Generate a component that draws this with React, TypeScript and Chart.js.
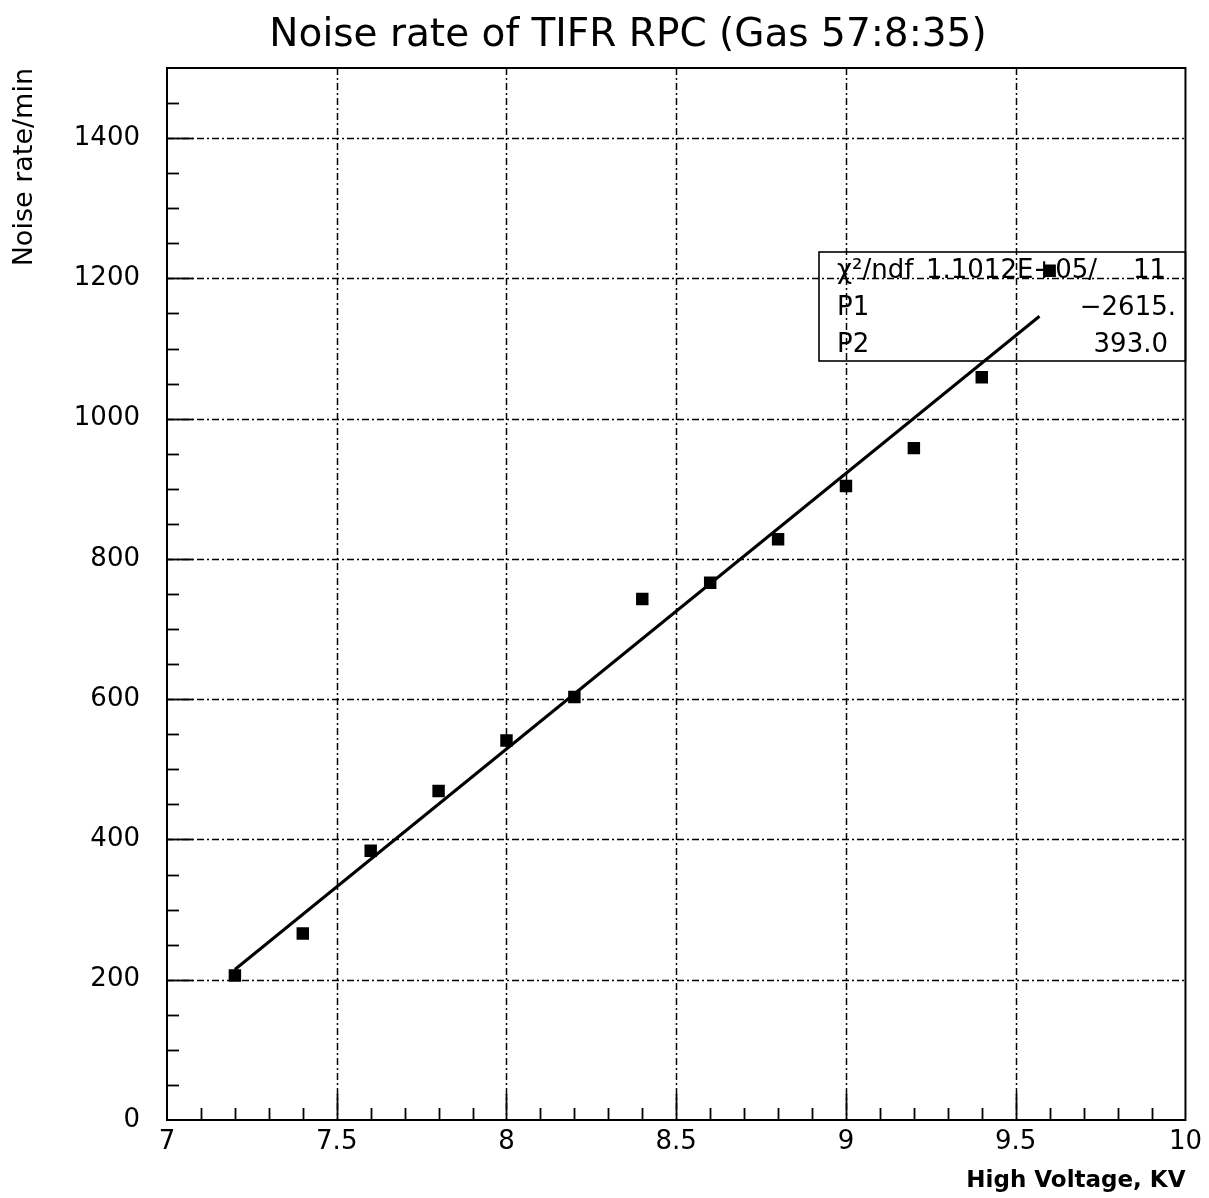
import { useEffect, useRef } from 'react';
import { Chart, registerables } from 'chart.js';

Chart.register(...registerables);

const W = 1209;
const H = 1198;

const chartTitle = 'Noise rate of TIFR RPC (Gas 57:8:35)';
const xAxisTitle = 'High Voltage, KV';
const yAxisTitle = 'Noise rate/min';

const highVoltage = [7.2, 7.4, 7.6, 7.8, 8.0, 8.2, 8.4, 8.6, 8.8, 9.0, 9.2, 9.4, 9.6];
const noiseRate = [206, 266, 384, 469, 541, 603, 743, 766, 828, 904, 958, 1059, 1211];

const fitP1 = -2615;
const fitP2 = 393.0;
const fitRange = [7.2, 9.57];

const statLabels = ['P1', 'P2'];
const statValues = ['\u22122615.', '393.0'];
const chi2Label = '\u03c7\u00b2/ndf';
const chi2Value = '1.1012E+05/';
const ndfValue = '11';

const xMin = 7, xMax = 10, xMajor = 0.5, xMinor = 0.1;
const yMin = 0, yMax = 1500, yMajor = 200, yMinor = 50;

const FONT = '"DejaVu Sans", sans-serif';

const rootPlugin = {
  id: 'rootStyle',
  beforeDatasetsDraw(chart: any) {
    const { ctx, chartArea: a, scales } = chart;
    const x = scales.x, y = scales.y;
    ctx.save();
    ctx.strokeStyle = '#000';
    ctx.lineWidth = 1.5;
    ctx.setLineDash([7, 3, 2, 3]);
    for (let v = xMin + xMajor; v < xMax - 1e-6; v += xMajor) {
      const px = Math.round(x.getPixelForValue(v)) + 0.5;
      ctx.beginPath();
      ctx.moveTo(px, a.top);
      ctx.lineTo(px, a.bottom);
      ctx.stroke();
    }
    for (let v = yMin + yMajor; v < yMax - 1e-6; v += yMajor) {
      const py = Math.round(y.getPixelForValue(v)) + 0.5;
      ctx.beginPath();
      ctx.moveTo(a.left, py);
      ctx.lineTo(a.right, py);
      ctx.stroke();
    }
    ctx.restore();
  },
  afterDatasetsDraw(chart: any) {
    const { ctx, chartArea: a, scales } = chart;
    const x = scales.x, y = scales.y;
    ctx.save();
    ctx.strokeStyle = '#000';
    ctx.setLineDash([]);
    // frame
    ctx.lineWidth = 2;
    ctx.strokeRect(a.left, a.top, a.right - a.left, a.bottom - a.top);
    // x ticks
    ctx.lineWidth = 1.8;
    const nx = Math.round((xMax - xMin) / xMinor);
    for (let i = 1; i < nx; i++) {
      const v = xMin + i * xMinor;
      const major = i % Math.round(xMajor / xMinor) === 0;
      const px = Math.round(x.getPixelForValue(v)) + 0.5;
      ctx.beginPath();
      ctx.moveTo(px, a.bottom);
      ctx.lineTo(px, a.bottom - (major ? 26 : 12));
      ctx.stroke();
    }
    const ny = Math.round((yMax - yMin) / yMinor);
    for (let i = 1; i < ny; i++) {
      const v = yMin + i * yMinor;
      const major = i % Math.round(yMajor / yMinor) === 0;
      const py = Math.round(y.getPixelForValue(v)) + 0.5;
      ctx.beginPath();
      ctx.moveTo(a.left, py);
      ctx.lineTo(a.left + (major ? 26 : 12), py);
      ctx.stroke();
    }
    // stats box
    const bx0 = 819, by0 = 252, bx1 = a.right, by1 = 361;
    ctx.lineWidth = 1.6;
    ctx.strokeRect(bx0, by0, bx1 - bx0, by1 - by0);
    ctx.fillStyle = '#000';
    ctx.font = `26px ${FONT}`;
    ctx.textBaseline = 'middle';
    ctx.textAlign = 'left';
    ctx.fillText(chi2Label, 837, 271);
    ctx.fillText(statLabels[0], 837, 308);
    ctx.fillText(statLabels[1], 837, 345);
    ctx.textAlign = 'right';
    ctx.fillText(chi2Value, 1097, 271);
    ctx.fillText(ndfValue, 1166, 271);
    ctx.fillText(statValues[0], 1176, 308);
    ctx.fillText(statValues[1], 1168, 345);
    // title
    ctx.textAlign = 'center';
    ctx.textBaseline = 'alphabetic';
    ctx.font = `39px ${FONT}`;
    ctx.fillText(chartTitle, 628, 46);
    // x axis title
    ctx.textAlign = 'right';
    ctx.font = `bold 23px ${FONT}`;
    ctx.fillText(xAxisTitle, a.right, 1187);
    // y axis title
    ctx.save();
    ctx.translate(25, a.top);
    ctx.rotate(-Math.PI / 2);
    ctx.textAlign = 'right';
    ctx.textBaseline = 'middle';
    ctx.font = `27px ${FONT}`;
    ctx.fillText(yAxisTitle, 0, 0);
    ctx.restore();
    ctx.restore();
  },
};

export default function App() {
  const ref = useRef<HTMLCanvasElement>(null);
  useEffect(() => {
    const canvas = ref.current!;
    const points = highVoltage.map((v, i) => ({ x: v, y: noiseRate[i] }));
    const fit = fitRange.map((v) => ({ x: v, y: fitP1 + fitP2 * v }));
    const chart = new Chart(canvas, {
      type: 'scatter',
      data: {
        datasets: [
          {
            data: fit,
            showLine: true,
            borderColor: '#000',
            borderWidth: 3,
            pointRadius: 0,
            pointHoverRadius: 0,
          },
          {
            data: points,
            pointStyle: 'rect',
            pointRadius: 8.8,
            pointHoverRadius: 8.8,
            backgroundColor: '#000',
            borderColor: '#000',
            borderWidth: 0,
          },
        ],
      },
      options: {
        animation: false,
        responsive: false,
        devicePixelRatio: 1,
        layout: { padding: { left: 0, right: W - 1188, top: 68, bottom: 0 } },
        plugins: { legend: { display: false }, tooltip: { enabled: false }, title: { display: false } },
        events: [],
        scales: {
          x: {
            type: 'linear',
            min: xMin,
            max: xMax,
            afterFit: (s: any) => { s.height = H - 1120; },
            grid: { display: false, drawTicks: false },
            border: { display: false },
            ticks: {
              stepSize: xMajor,
              includeBounds: false,
              autoSkip: false,
              maxRotation: 0,
              padding: 7,
              color: '#000',
              font: { family: FONT, size: 26 },
              callback: (v: any) => String(Number(Number(v).toFixed(2))),
            },
          },
          y: {
            type: 'linear',
            min: yMin,
            max: yMax,
            afterFit: (s: any) => { s.width = 167; },
            grid: { display: false, drawTicks: false },
            border: { display: false },
            ticks: {
              stepSize: yMajor,
              includeBounds: false,
              autoSkip: false,
              padding: 27,
              color: '#000',
              font: { family: FONT, size: 26 },
              callback: (v: any) => String(Number(v)),
            },
          },
        },
      },
      plugins: [rootPlugin],
    } as any);
    return () => chart.destroy();
  }, []);
  return (
    <div style={{ position: 'absolute', left: 0, top: 0, width: W, height: H, background: '#fff' }}>
      <canvas ref={ref} width={W} height={H} style={{ width: W, height: H, display: 'block' }} />
    </div>
  );
}
